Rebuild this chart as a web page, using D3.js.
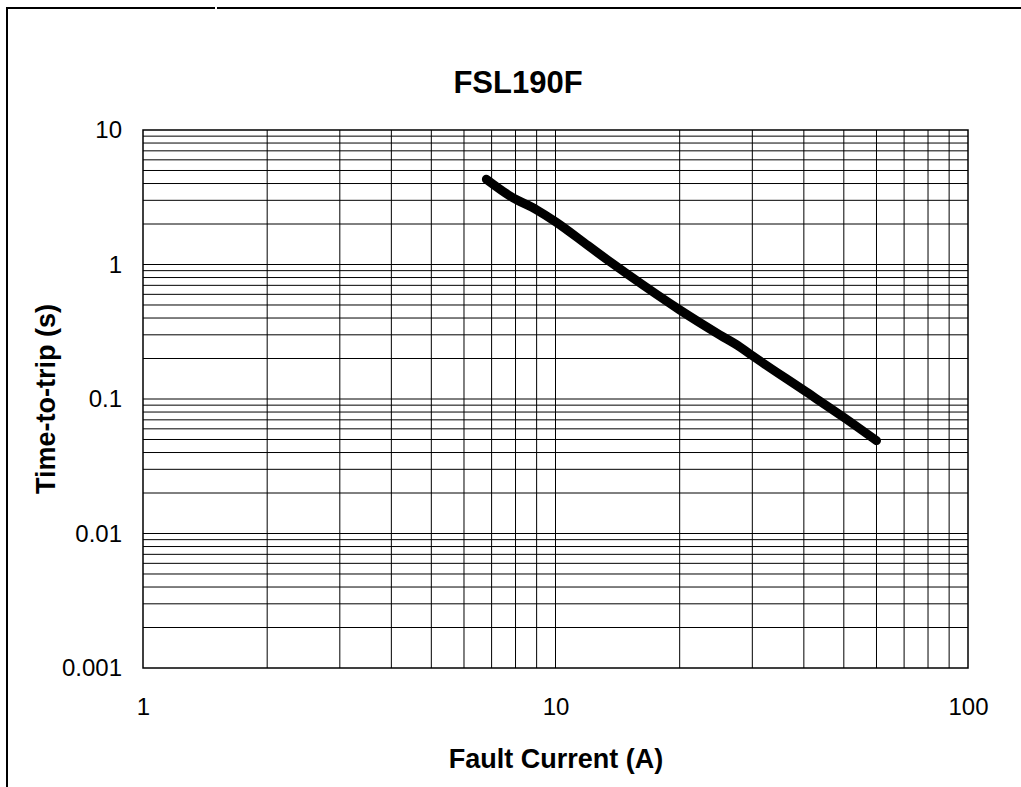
<!DOCTYPE html>
<html><head><meta charset="utf-8">
<script src="https://cdn.jsdelivr.net/npm/d3@7"></script>
<style>body{margin:0;background:#fff}svg{display:block}text{font-family:"Liberation Sans",Arial,sans-serif;fill:#000}</style>
</head><body>
<svg id="c" width="1021" height="787"></svg>
<script>
const title = "FSL190F";
const xTitle = "Fault Current (A)";
const yTitle = "Time-to-trip (s)";
const xTickValues = [1, 10, 100];
const xTickLabels = ["1", "10", "100"];
const yTickValues = [0.001, 0.01, 0.1, 1, 10];
const yTickLabels = ["0.001", "0.01", "0.1", "1", "10"];
const current = [6.8, 7.8, 9, 10, 12, 13.6, 15, 20, 25, 28, 30, 40, 50, 60];
const tripTime = [4.3, 3.2, 2.55, 2.08, 1.38, 1.04, 0.84, 0.46, 0.30, 0.244, 0.21, 0.116, 0.073, 0.049];

const svg = d3.select("#c");
const m = {l:143, r:968, t:130, b:668};
const x = d3.scaleLog().domain([1,100]).range([m.l, m.r]);
const y = d3.scaleLog().domain([0.001,10]).range([m.b, m.t]);

// frame
svg.append("path").attr("d","M6,8H215M217,8H1021").attr("stroke","#000").attr("stroke-width",2);
svg.append("path").attr("d","M7,8V787").attr("stroke","#000").attr("stroke-width",2);

// minor grid values
const xGrid = [];
for (let d of [1,10]) for (let k=1;k<=9;k++) xGrid.push(d*k);
const yGrid = [];
for (let d of [0.001,0.01,0.1,1]) for (let k=1;k<=9;k++) yGrid.push(d*k);

const g = svg.append("g");
g.selectAll(".vx").data(xGrid.slice(1)).enter().append("line")
  .attr("x1",d=>x(d)).attr("x2",d=>x(d)).attr("y1",m.t).attr("y2",m.b)
  .attr("stroke","#000").attr("stroke-width",1);
g.selectAll(".hy").data(yGrid.slice(1)).enter().append("line")
  .attr("y1",d=>y(d)).attr("y2",d=>y(d)).attr("x1",m.l).attr("x2",m.r)
  .attr("stroke","#000").attr("stroke-width",1);
g.append("rect").attr("x",m.l).attr("y",m.t).attr("width",m.r-m.l).attr("height",m.b-m.t)
  .attr("fill","none").attr("stroke","#000").attr("stroke-width",1.5);

// axes labels
const xAxis = d3.axisBottom(x).tickValues(xTickValues).tickFormat((d,i)=>xTickLabels[i]).tickSize(0).tickPadding(30);
const xa = svg.append("g").attr("transform",`translate(0,${m.b})`).call(xAxis);
xa.select(".domain").remove();
xa.selectAll("text").style("font-size","24px").style("font-family","Liberation Sans, Arial, sans-serif");

const yAxis = d3.axisLeft(y).tickValues(yTickValues).tickFormat((d,i)=>yTickLabels[i]).tickSize(0).tickPadding(21);
const ya = svg.append("g").attr("transform",`translate(${m.l},0)`).call(yAxis);
ya.select(".domain").remove();
ya.selectAll("text").style("font-size","24px").style("font-family","Liberation Sans, Arial, sans-serif");

// curve
const line = d3.line().x(d=>x(d[0])).y(d=>y(d[1])).curve(d3.curveMonotoneX);
svg.append("path").datum(current.map((c,i)=>[c,tripTime[i]]))
  .attr("d",line).attr("fill","none").attr("stroke","#000").attr("stroke-width",9)
  .attr("stroke-linecap","round").attr("stroke-linejoin","round");

// titles
svg.append("text").attr("x",518).attr("y",93).attr("text-anchor","middle")
  .style("font-size","31px").style("font-weight","bold").text(title);
svg.append("text").attr("x",556).attr("y",768).attr("text-anchor","middle")
  .style("font-size","27px").style("font-weight","bold").text(xTitle);
svg.append("text").attr("transform","translate(55,399) rotate(-90)").attr("text-anchor","middle")
  .style("font-size","27px").style("font-weight","bold").text(yTitle);
</script>
</body></html>
